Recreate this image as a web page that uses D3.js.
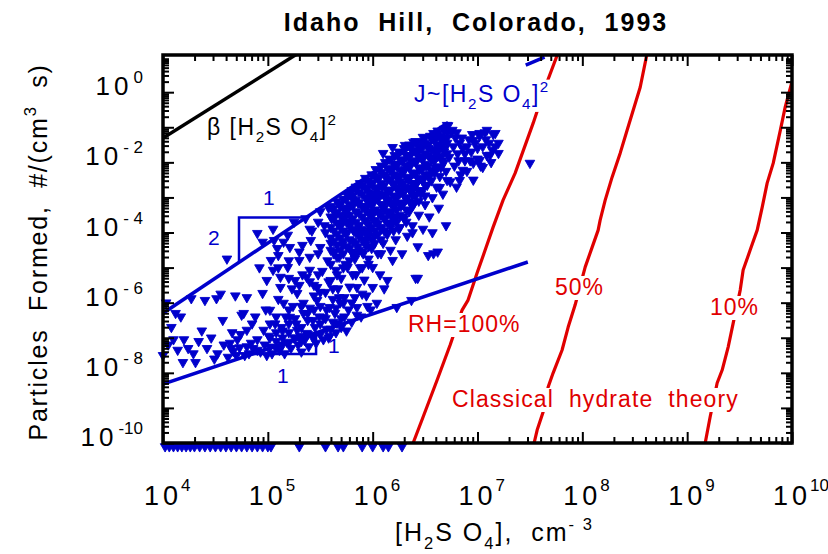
<!DOCTYPE html>
<html>
<head>
<meta charset="utf-8">
<script src="https://cdn.jsdelivr.net/npm/d3@7"></script>
<style>
  body { margin: 0; background: #fff; }
  svg { display: block; }
  text { font-family: "Liberation Sans", Arial, Helvetica, sans-serif; white-space: pre; }
</style>
</head>
<body>
<svg id="chart" width="828" height="554"></svg>
<script>
// ---- Data (log10 values: [H2SO4] in cm^-3, J in cm^-3 s^-1) ----
const xDecades = [4, 5, 6, 7, 8, 9, 10];
const yLabelDecades = [0, -2, -4, -6, -8, -10];

// Collision-limited formation, beta [H2SO4]^2
const betaLineLog = [[4.0, -1.31], [5.30, 1.13]];
// Empirical envelopes: J ~ [H2SO4]^2 (upper) and J ~ [H2SO4] (lower)
const squareFitLog = [[4.0, -6.30], [6.72, -0.86]];
const linearFitLog = [[4.0, -8.32], [7.48, -4.84]];
const stubLog = [[7.46, 0.77], [7.64, 1.0]];
// Slope triangles
const steepTriangleLog = [[4.725, -4.85], [4.725, -3.57], [5.365, -3.57]];
const flatTriangleLog = [[4.855, -7.465], [5.46, -7.465], [5.46, -6.86]];

// Classical binary hydrate nucleation rates
const rh100Log = [[6.37, -10.2], [6.386, -10], [6.481, -9.26], [6.615, -8.205], [6.739, -7.208], [6.853, -6.211],
  [6.910, -5.926], [6.996, -5.157], [7.073, -4.501], [7.149, -3.846], [7.244, -3.077], [7.359, -2.308],
  [7.531, -0.883], [7.645, 0.142], [7.760, 1.054], [7.78, 1.2]];
const rh50Log = [[7.53, -10.2], [7.540, -10], [7.569, -9.63], [7.626, -9.117], [7.674, -8.405], [7.721, -8.006],
  [7.807, -7.35], [7.865, -6.695], [7.931, -6.068], [8.027, -4.986], [8.094, -4.416], [8.151, -3.932],
  [8.170, -3.647], [8.218, -3.077], [8.284, -2.422], [8.361, -1.738], [8.427, -1.083], [8.552, 0.142],
  [8.618, 1.111], [8.63, 1.2]];
const rh10Log = [[9.16, -10.2], [9.172, -10], [9.219, -9.259], [9.286, -8.291], [9.334, -7.92], [9.391, -7.265],
  [9.439, -6.581], [9.506, -5.641], [9.534, -5.071], [9.601, -4.501], [9.668, -3.932], [9.716, -3.276],
  [9.763, -2.593], [9.821, -2.023], [9.889, -1.083], [9.935, -0.427], [10.0, 0.3]];

// Observed particle formation rates
const observedLog = [
  [4.00,-7.50],[4.03,-6.00],[4.05,-7.20],[4.08,-6.70],[4.10,-7.05],[4.12,-6.30],[4.14,-7.35],[4.17,-6.40],
  [4.19,-7.70],[4.20,-7.05],[4.24,-7.30],[4.27,-5.88],[4.29,-7.45],[4.31,-7.70],[4.34,-7.10],[4.37,-6.80],
  [4.40,-5.93],[4.42,-7.30],[4.46,-7.00],[4.49,-7.60],[4.51,-5.88],[4.52,-7.45],[4.55,-5.75],[4.57,-6.50],
  [4.58,-7.20],
  [4.61,-4.75],[4.62,-7.55],[4.64,-7.15],[4.66,-6.85],[4.67,-7.38],[4.69,-5.80],[4.71,-7.05],[4.73,-7.28],
  [4.75,-6.35],[4.77,-6.30],[4.78,-7.50],[4.80,-5.85],[4.80,-6.78],[4.82,-7.45],[4.84,-7.15],[4.86,-7.30],
  [4.88,-6.40],[4.90,-4.02],[4.90,-7.05],[4.92,-5.00],[4.93,-7.40],[4.95,-4.27],[4.95,-5.73],[4.96,-6.78],
  [4.97,-7.20],[4.99,-5.36],[4.99,-7.50],[4.98,-6.20],
  [4.65,-7.30],[4.70,-7.50],[4.74,-6.90],[4.80,-7.25],[4.85,-6.60],[4.90,-7.35],
  [5.01,-6.95],[5.02,-6.21],[5.02,-7.26],[5.03,-4.79],[5.04,-7.45],[5.05,-3.90],[5.05,-5.07],[5.06,-4.22],
  [5.07,-6.60],[5.08,-7.10],[5.09,-4.45],[5.10,-5.90],[5.11,-7.35],[5.12,-5.27],[5.12,-5.56],[5.13,-6.70],
  [5.14,-7.00],[5.15,-4.27],[5.15,-6.01],[5.16,-7.45],[5.17,-6.40],[5.18,-7.12],[5.19,-4.07],[5.19,-4.99],
  [5.20,-6.85],[5.21,-4.42],[5.21,-6.41],[5.22,-7.30],[5.23,-5.60],[5.24,-6.10],[5.25,-7.00],[5.25,-3.70],
  [5.26,-5.36],[5.27,-6.60],[5.28,-5.73],[5.28,-6.78],[5.29,-7.20],[5.30,-4.79],[5.31,-6.95],[5.32,-7.40],
  [5.33,-4.36],[5.33,-5.20],[5.34,-6.01],[5.34,-6.30],[5.35,-7.07],[5.36,-3.60],[5.37,-5.27],[5.37,-6.87],
  [5.38,-6.50],[5.39,-7.25],[5.40,-5.07],[5.40,-6.15],[5.41,-4.22],[5.42,-3.95],[5.43,-6.50],[5.43,-7.00],
  [5.44,-5.80],[5.45,-6.70],[5.46,-7.15],[5.47,-5.56],[5.47,-5.93],[5.48,-4.60],[5.49,-6.40],[5.50,-4.42],
  [5.50,-6.90],[5.50,-3.40],
  [5.02,-7.00],[5.02,-6.60],[5.08,-7.30],[5.08,-6.85],[5.08,-6.40],[5.14,-7.20],[5.14,-6.80],[5.20,-7.15],
  [5.20,-6.60],[5.20,-6.20],[5.26,-7.00],[5.26,-6.45],[5.32,-7.10],[5.32,-6.70],[5.32,-6.10],[5.38,-6.90],
  [5.38,-6.30],[5.44,-6.95],[5.44,-6.20],[5.44,-5.50],[5.50,-6.60],[5.50,-6.10],[5.50,-5.70],
  [5.10,-5.00],[5.10,-4.65],[5.20,-5.30],[5.20,-4.80],[5.30,-5.50],[5.30,-4.55],[5.40,-5.40],[5.40,-4.70],
  [5.40,-3.90],[5.48,-5.20],[5.48,-3.70],
  [5.55,-6.45],[5.60,-6.75],[5.65,-6.15],[5.70,-6.45],[5.75,-6.80],[5.80,-6.00],[5.85,-6.35],[5.90,-5.75],
  [5.95,-6.10],[5.58,-7.00],[5.62,-5.60],[5.68,-5.85],
  [5.52,-5.10],[5.53,-6.41],[5.53,-7.05],[5.54,-3.80],[5.55,-4.00],[5.55,-5.70],[5.56,-6.20],[5.56,-6.75],
  [5.57,-4.80],[5.58,-3.30],[5.58,-5.40],[5.59,-6.13],[5.59,-6.95],[5.60,-4.30],[5.60,-5.36],[5.61,-3.60],
  [5.62,-6.55],[5.62,-5.90],[5.63,-4.55],[5.64,-3.45],[5.64,-6.30],[5.65,-5.07],[5.65,-6.85],[5.66,-6.58],
  [5.66,-4.05],[5.67,-5.60],[5.68,-3.20],[5.68,-4.70],[5.69,-6.00],[5.70,-3.75],[5.70,-5.30],[5.70,-6.70],
  [5.71,-4.35],[5.72,-6.01],[5.72,-3.05],[5.73,-5.85],[5.73,-6.40],[5.74,-4.00],[5.74,-4.90],[5.75,-3.50],
  [5.76,-4.99],[5.76,-2.95],[5.77,-3.30],[5.77,-6.20],[5.78,-4.20],[5.78,-5.55],[5.79,-3.70],[5.80,-2.80],
  [5.80,-4.55],[5.80,-6.55],[5.81,-3.05],[5.81,-5.20],[5.82,-3.95],[5.83,-4.75],[5.83,-5.85],[5.84,-3.40],
  [5.84,-2.70],[5.85,-5.56],[5.85,-6.13],[5.86,-4.40],[5.86,-3.15],[5.87,-3.80],[5.88,-2.60],[5.88,-5.00],
  [5.89,-4.05],[5.89,-6.40],[5.90,-3.55],[5.90,-2.90],[5.91,-4.60],[5.92,-5.35],[5.92,-3.25],[5.93,-2.45],
  [5.93,-4.25],[5.94,-5.80],[5.95,-3.70],[5.95,-2.75],[5.96,-4.90],[5.97,-3.05],[5.97,-3.95],[5.98,-6.20],
  [5.99,-2.35],[5.99,-4.45],[6.00,-3.40],[6.00,-4.99],[6.00,-5.56],[6.00,-2.60],
  [5.60,-3.25],[5.60,-3.55],[5.60,-3.85],[5.60,-4.15],[5.60,-4.50],[5.60,-4.90],
  [5.66,-3.12],[5.66,-3.42],[5.66,-3.72],[5.66,-4.35],[5.66,-4.70],[5.66,-5.20],
  [5.72,-3.30],[5.72,-3.60],[5.72,-3.95],[5.72,-4.25],[5.72,-4.60],[5.72,-5.00],
  [5.78,-2.88],[5.78,-3.20],[5.78,-3.50],[5.78,-3.82],[5.78,-4.45],[5.78,-4.80],
  [5.84,-2.78],[5.84,-3.08],[5.84,-3.70],[5.84,-4.00],[5.84,-4.30],[5.84,-4.65],[5.84,-5.20],
  [5.90,-2.65],[5.90,-3.25],[5.90,-3.90],[5.90,-4.20],[5.90,-4.55],[5.90,-5.00],
  [5.96,-2.52],[5.96,-2.85],[5.96,-3.15],[5.96,-3.45],[5.96,-3.78],[5.96,-4.10],[5.96,-4.40],[5.96,-4.75],
  [6.02,-2.40],[6.02,-2.72],[6.02,-3.02],[6.02,-3.35],[6.02,-3.65],[6.02,-3.95],[6.02,-4.30],
  [6.08,-2.28],[6.08,-2.60],[6.08,-2.90],[6.08,-3.20],[6.08,-3.50],[6.08,-3.85],[6.08,-4.20],[6.08,-4.60],
  [6.14,-2.16],[6.14,-2.48],[6.14,-2.78],[6.14,-3.10],[6.14,-3.42],[6.14,-3.72],[6.14,-4.05],
  [6.20,-2.05],[6.20,-2.35],[6.20,-2.65],[6.20,-2.95],[6.20,-3.28],[6.20,-3.60],[6.20,-3.95],
  [6.26,-1.92],[6.26,-2.22],[6.26,-2.55],[6.26,-2.85],[6.26,-3.15],[6.26,-3.50],[6.26,-3.85],
  [6.32,-1.80],[6.32,-2.10],[6.32,-2.42],[6.32,-2.72],[6.32,-3.05],[6.32,-3.35],[6.32,-3.70],
  [6.38,-1.68],[6.38,-1.98],[6.38,-2.30],[6.38,-2.60],[6.38,-2.92],[6.38,-3.25],
  [6.44,-1.55],[6.44,-1.85],[6.44,-2.15],[6.44,-2.48],[6.44,-2.80],[6.44,-3.10],
  [6.50,-1.45],[6.50,-1.75],[6.50,-2.05],[6.50,-2.35],[6.50,-2.65],[6.50,-2.95],
  [6.56,-1.32],[6.56,-1.62],[6.56,-1.92],[6.56,-2.22],[6.56,-2.52],
  [6.62,-1.20],[6.62,-1.50],[6.62,-1.82],[6.62,-2.12],
  [6.68,-1.08],[6.68,-1.40],[6.68,-1.70],[6.68,-2.00],
  [5.63,-3.30],[5.63,-3.60],[5.63,-3.95],[5.63,-4.25],[5.63,-4.60],
  [5.69,-3.20],[5.69,-3.50],[5.69,-3.85],[5.69,-4.15],[5.69,-4.50],
  [5.75,-3.05],[5.75,-3.40],[5.75,-3.70],[5.75,-4.05],[5.75,-4.40],
  [5.81,-2.95],[5.81,-3.25],[5.81,-3.60],[5.81,-3.90],[5.81,-4.25],[5.81,-4.60],
  [5.87,-2.85],[5.87,-3.15],[5.87,-3.45],[5.87,-3.80],[5.87,-4.10],[5.87,-4.50],
  [5.93,-2.70],[5.93,-3.00],[5.93,-3.35],[5.93,-3.65],[5.93,-4.00],[5.93,-4.35],
  [5.99,-2.60],[5.99,-2.90],[5.99,-3.20],[5.99,-3.55],[5.99,-3.85],[5.99,-4.20],
  [6.05,-2.45],[6.05,-2.75],[6.05,-3.05],[6.05,-3.40],[6.05,-3.75],[6.05,-4.05],
  [6.11,-2.35],[6.11,-2.65],[6.11,-2.95],[6.11,-3.30],[6.11,-3.60],[6.11,-3.95],
  [6.17,-2.20],[6.17,-2.50],[6.17,-2.80],[6.17,-3.15],[6.17,-3.50],[6.17,-3.80],
  [6.23,-2.10],[6.23,-2.40],[6.23,-2.70],[6.23,-3.00],[6.23,-3.35],[6.23,-3.70],
  [6.29,-1.95],[6.29,-2.25],[6.29,-2.60],[6.29,-2.90],[6.29,-3.20],[6.29,-3.55],
  [6.35,-1.85],[6.35,-2.15],[6.35,-2.45],[6.35,-2.75],[6.35,-3.10],
  [6.41,-1.70],[6.41,-2.00],[6.41,-2.35],[6.41,-2.65],[6.41,-2.95],
  [6.47,-1.60],[6.47,-1.90],[6.47,-2.20],[6.47,-2.50],[6.47,-2.80],
  [6.53,-1.50],[6.53,-1.80],[6.53,-2.10],[6.53,-2.40],
  [6.59,-1.35],[6.59,-1.65],[6.59,-1.95],[6.59,-2.30],
  [6.65,-1.25],[6.65,-1.55],[6.65,-1.85],[6.65,-2.15],
  [6.71,-1.15],[6.71,-1.45],[6.71,-1.75],
  [6.01,-3.15],[6.02,-4.10],[6.03,-2.20],[6.03,-3.70],[6.04,-6.01],[6.04,-2.90],[6.05,-4.60],[6.06,-3.45],
  [6.06,-2.45],[6.07,-5.20],[6.08,-2.10],[6.08,-3.90],[6.09,-2.70],[6.10,-3.20],[6.10,-4.30],[6.11,-5.60],
  [6.12,-2.00],[6.12,-3.60],[6.13,-2.40],[6.14,-5.36],[6.14,-4.00],[6.15,-2.85],[6.15,-3.05],[6.16,-1.90],
  [6.17,-3.40],[6.17,-4.50],[6.18,-2.25],[6.19,-4.79],[6.19,-3.75],[6.20,-2.60],[6.21,-1.80],[6.21,-3.15],
  [6.22,-4.20],[6.22,-2.05],[6.23,-6.13],[6.23,-3.55],[6.24,-2.80],[6.25,-1.70],[6.25,-3.90],
  [6.26,-2.40],[6.27,-3.25],[6.28,-1.95],[6.28,-4.60],[6.29,-2.70],[6.30,-1.60],[6.30,-3.60],[6.31,-2.20],
  [6.32,-3.00],[6.33,-1.80],[6.33,-4.10],[6.34,-2.50],[6.35,-3.40],[6.35,-1.50],[6.36,-2.05],[6.37,-2.85],
  [6.38,-3.80],[6.38,-1.65],[6.39,-2.30],[6.40,-3.15],[6.41,-1.40],[6.41,-5.30],[6.42,-2.60],[6.42,-1.95],
  [6.43,-4.40],[6.44,-1.70],[6.44,-3.50],[6.45,-2.20],[6.46,-2.90],[6.47,-1.45],[6.48,-3.90],[6.48,-2.45],
  [6.49,-1.85],[6.50,-3.20],[6.50,-1.30],
  [6.51,-2.10],[6.52,-2.65],[6.53,-1.60],[6.54,-3.55],[6.55,-1.25],[6.55,-2.35],[6.56,-1.85],[6.57,-3.00],
  [6.58,-4.60],[6.59,-1.40],[6.60,-2.15],[6.61,-2.70],[6.62,-1.10],[6.62,-1.70],[6.63,-3.30],[6.64,-2.40],
  [6.65,-1.35],[6.66,-1.95],[6.67,-2.90],[6.68,-1.05],[6.69,-1.60],[6.70,-2.25],[6.70,-3.80],[6.71,-1.30],
  [6.72,-0.95],[6.73,-1.85],[6.74,-2.55],[6.75,-1.15],
  [6.77,-1.55],[6.78,-2.10],[6.79,-1.30],[6.80,-2.70],[6.81,-1.75],[6.83,-1.45],[6.84,-2.35],[6.86,-1.60],
  [6.88,-1.95],[6.90,-2.25],[6.92,-1.35],[6.94,-1.70],[6.96,-2.50],[6.98,-1.45],[7.00,-1.90],[7.02,-1.25],
  [7.03,-2.10],[7.05,-1.55],[7.07,-1.15],[7.09,-1.80],[7.11,-1.45],[7.13,-2.00],[7.15,-1.20],[7.17,-1.55],
  [7.20,-1.45],[7.50,-2.02],
  [6.80,-1.15],[6.85,-1.30],[6.90,-1.55],[6.95,-1.20],[7.00,-1.60],[6.88,-1.75],[6.82,-1.95],[6.93,-1.95],
  [7.08,-1.35],[7.14,-1.65],
  [6.71,-0.94],[6.76,-1.08],[6.58,-1.17],[6.48,-1.28],[6.39,-1.42],[6.31,-1.51],[6.19,-1.57],[6.10,-1.74],
  [7.02,-1.17],[7.09,-1.08],[7.17,-1.17],[6.96,-1.37],[7.02,-1.94],[7.12,-1.79],[7.20,-1.74],[7.05,-2.14],
  [6.96,-2.02],[6.86,-2.22],[6.71,-2.51],[6.83,-2.51],[6.64,-2.71],[6.48,-2.51],[6.39,-2.74],[6.26,-2.88],
  [6.38,-4.00],[6.57,-4.00],[6.62,-4.55],[6.53,-4.65],[6.43,-5.30],[6.37,-5.93]
];
// Events at the detection floor
const floorLog = [4.02,4.06,4.10,4.14,4.18,4.22,4.26,4.30,4.35,4.40,4.45,4.50,4.55,4.60,4.65,4.70,
  4.75,4.80,4.85,4.90,4.95,5.00,5.03,5.30,5.55,5.67,5.72,5.90,6.00,6.10,6.15,6.28];

// ---- Layout ----
const svg = d3.select("#chart");
const L = 163, R = 792, T = 55, B = 443;
const BLUE = "#0000cc", RED = "#e00000";
const x = d3.scaleLog().domain([1e4, 1e10]).range([L, R]);
const y = d3.scaleLog().domain([1e-10, Math.pow(10, 1.06)]).range([B, T]);
const px = v => x(Math.pow(10, v));
const py = v => y(Math.pow(10, v));
const line = d3.line().x(d => px(d[0])).y(d => py(d[1]));

svg.append("defs").append("clipPath").attr("id", "plotClip")
  .append("rect").attr("x", L).attr("y", T).attr("width", R - L).attr("height", B - T);

const plot = svg.append("g").attr("clip-path", "url(#plotClip)");

// Classical theory curves
[rh100Log, rh50Log, rh10Log].forEach(c => {
  plot.append("path").attr("d", line(c)).attr("fill", "none")
    .attr("stroke", RED).attr("stroke-width", 3.2).attr("stroke-linejoin", "round");
});

// Text helper with sub/superscripts: parts = [[text, "n"|"sub"|"sup"], ...]
function richText(g, xPos, yPos, parts, opts) {
  const t = g.append("text").attr("x", xPos).attr("y", yPos)
    .attr("font-size", opts.size).attr("fill", opts.color || "#000")
    .attr("text-anchor", opts.anchor || "start")
    .attr("letter-spacing", opts.spacing || 0);
  if (opts.weight) t.attr("font-weight", opts.weight);
  if (opts.rotate) t.attr("transform", `rotate(${opts.rotate},${xPos},${yPos})`);
  let shift = 0;
  parts.forEach(([s, kind]) => {
    const target = kind === "sub" ? opts.size * 0.3 : kind === "sup" ? -opts.size * 0.45 : 0;
    const ts = t.append("tspan").text(s).attr("dy", target - shift);
    if (kind !== "n") ts.attr("font-size", opts.size * 0.66);
    shift = target;
  });
  return t;
}

// Labels with white knock-out backgrounds
function boxedLabel(parts, xPos, yPos, opts) {
  const g = svg.append("g");
  const bg = g.append("rect").attr("fill", "#fff");
  const t = richText(g, xPos, yPos, parts, opts);
  const bb = t.node().getBBox();
  const pad = opts.pad || 3;
  bg.attr("x", bb.x - pad).attr("y", bb.y + 2).attr("width", bb.width + 2 * pad).attr("height", bb.height - 2);
  return g;
}

boxedLabel([["RH=100%", "n"]], 408, 332, { size: 23, color: RED, spacing: 1 });
boxedLabel([["50%", "n"]], 555, 295, { size: 23, color: RED, spacing: 1 });
boxedLabel([["10%", "n"]], 710, 315, { size: 23, color: RED, spacing: 1 });
boxedLabel([["Classical  hydrate  theory", "n"]], 452, 407, { size: 23, color: RED, spacing: 1.1 });
boxedLabel([["J~[H", "n"], ["2", "sub"], ["S O", "n"], ["4", "sub"], ["]", "n"], ["2", "sup"]], 414, 102,
  { size: 23, color: BLUE, spacing: 1.5 });

// Observations
const sym = d3.symbol().type(d3.symbolTriangle).size(40);
svg.append("g").selectAll("path.obs").data(observedLog).join("path")
  .attr("class", "obs").attr("d", sym).attr("fill", BLUE)
  .attr("stroke", BLUE).attr("stroke-width", 0.9).attr("stroke-linejoin", "round")
  .attr("transform", d => `translate(${px(d[0])},${py(d[1])}) rotate(180)`);
svg.append("g").selectAll("path.floor").data(floorLog).join("path")
  .attr("class", "floor").attr("d", sym).attr("fill", BLUE)
  .attr("stroke", BLUE).attr("stroke-width", 0.9).attr("stroke-linejoin", "round")
  .attr("transform", d => `translate(${px(d)},${py(-10.1)}) rotate(180)`);

// Fit lines and slope triangles
[squareFitLog, linearFitLog, stubLog].forEach(c => {
  plot.append("path").attr("d", line(c)).attr("fill", "none")
    .attr("stroke", BLUE).attr("stroke-width", 3.5);
});
[steepTriangleLog, flatTriangleLog].forEach(c => {
  plot.append("path").attr("d", line(c)).attr("fill", "none")
    .attr("stroke", BLUE).attr("stroke-width", 2.5);
});
plot.append("path").attr("d", line(betaLineLog)).attr("fill", "none")
  .attr("stroke", "#000").attr("stroke-width", 3.5);

richText(svg, 263, 205, [["1", "n"]], { size: 21, color: BLUE });
richText(svg, 208, 245, [["2", "n"]], { size: 21, color: BLUE });
richText(svg, 328, 353, [["1", "n"]], { size: 21, color: BLUE });
richText(svg, 277, 383, [["1", "n"]], { size: 21, color: BLUE });

richText(svg, 207, 135, [["β [H", "n"], ["2", "sub"], ["S O", "n"], ["4", "sub"], ["]", "n"], ["2", "sup"]],
  { size: 23, color: "#000", spacing: 1.5 });

// ---- Axes: inward ticks on all four sides ----
const xMajor = xDecades.map(d => Math.pow(10, d));
const xMinor = [];
for (let d = 4; d < 10; d++) for (let m = 2; m < 10; m++) xMinor.push(m * Math.pow(10, d));
const yMajor = d3.range(-10, 1).map(d => Math.pow(10, d));
const yMinor = [];
for (let d = -10; d < 1; d++) for (let m = 2; m < 10; m++) {
  const v = m * Math.pow(10, d);
  if (v <= Math.pow(10, 1.06)) yMinor.push(v);
}
const MAJ = 11, MIN = 6;
function addAxis(axisFn, scale, values, size, transform) {
  const g = svg.append("g").attr("transform", transform)
    .call(axisFn(scale).tickValues(values).tickSize(-size).tickFormat(""));
  g.select(".domain").remove();
  g.selectAll(".tick line").attr("stroke", "#000").attr("stroke-width", 2);
}
addAxis(d3.axisBottom, x, xMajor, MAJ, `translate(0,${B})`);
addAxis(d3.axisBottom, x, xMinor, MIN, `translate(0,${B})`);
addAxis(d3.axisTop, x, xMajor, MAJ, `translate(0,${T})`);
addAxis(d3.axisTop, x, xMinor, MIN, `translate(0,${T})`);
addAxis(d3.axisLeft, y, yMajor, MAJ, `translate(${L},0)`);
addAxis(d3.axisLeft, y, yMinor, MIN, `translate(${L},0)`);
addAxis(d3.axisRight, y, yMajor, MAJ, `translate(${R},0)`);
addAxis(d3.axisRight, y, yMinor, MIN, `translate(${R},0)`);

svg.append("rect").attr("x", L).attr("y", T).attr("width", R - L).attr("height", B - T)
  .attr("fill", "none").attr("stroke", "#000").attr("stroke-width", 3.5);

// Tick labels: 10^n with superscript exponents
const expText = n => n < 0 ? (n <= -10 ? "-" + (-n) : "- " + (-n)) : String(n);
xDecades.forEach(d => {
  const cx = x(Math.pow(10, d));
  const base = svg.append("text").attr("x", cx).attr("y", 505).attr("text-anchor", "middle")
    .attr("font-size", 27).attr("letter-spacing", 4).text("10");
  const w = base.node().getComputedTextLength();
  svg.append("text").attr("x", cx + w / 2 - 1).attr("y", 491).attr("font-size", 17).text(expText(d));
});
yLabelDecades.forEach(d => {
  const cy = y(Math.pow(10, d));
  const sup = svg.append("text").attr("x", 143).attr("y", cy - 9).attr("text-anchor", "end")
    .attr("font-size", 17).text(expText(d));
  const sw = sup.node().getComputedTextLength();
  svg.append("text").attr("x", 143 - sw - 1).attr("y", cy + 3).attr("text-anchor", "end")
    .attr("font-size", 26).attr("letter-spacing", 4).text("10");
});

// Titles
svg.append("text").attr("x", 476).attr("y", 31).attr("text-anchor", "middle")
  .attr("font-size", 25).attr("font-weight", "bold").attr("letter-spacing", 2)
  .text("Idaho  Hill,  Colorado,  1993");

richText(svg, 395, 541, [["[H", "n"], ["2", "sub"], ["S O", "n"], ["4", "sub"], ["],  cm", "n"], ["- 3", "sup"]],
  { size: 25, spacing: 2 });

richText(svg, 47, 252, [["Particles  Formed,  #/(cm", "n"], ["3", "sup"], ["  s)", "n"]],
  { size: 25, spacing: 1.8, anchor: "middle", rotate: -90 });
</script>
</body>
</html>
